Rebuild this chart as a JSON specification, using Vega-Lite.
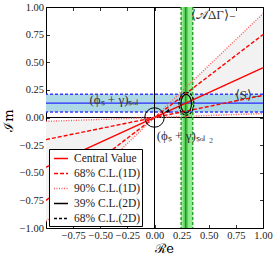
{
  "$schema": "https://vega.github.io/schema/vega-lite/v6.json",
  "width": 217,
  "height": 221,
  "autosize": {"type": "none"},
  "padding": {"left": 46, "top": 7, "right": 13, "bottom": 29},
  "config": {
    "view": {"stroke": "black", "strokeWidth": 1},
    "axis": {"domain": false, "grid": false, "tickColor": "black", "tickWidth": 0.8, "tickSize": -3.5, "labelFont": "Liberation Serif", "labelFontSize": 10.5, "labelColor": "#222", "labelOverlap": false, "labelFlush": false, "titleFont": "DejaVu Serif", "titleFontWeight": "normal", "titleFontSize": 13, "titleColor": "black"}
  },
  "datasets": {
    "wedge": [{"x": -1, "lo": -0.035, "hi": -0.94}, {"x": 0, "lo": 0, "hi": 0}, {"x": 1, "lo": 0.035, "hi": 0.94}],
    "bands": [
      {"band": "S", "x": -1, "x2": 1, "y": 0.05, "y2": 0.21},
      {"band": "A1", "x": 0.245, "x2": 0.352, "y": -1, "y2": 1},
      {"band": "A2", "x": 0.266, "x2": 0.31, "y": -1, "y2": 1}
    ],
    "hlines": [{"kind": "zero", "y": 0}, {"kind": "S", "y": 0.13}, {"kind": "S68", "y": 0.05}, {"kind": "S68", "y": 0.21}],
    "vlines": [{"kind": "zero", "x": 0}, {"kind": "A", "x": 0.288}, {"kind": "A68", "x": 0.245}, {"kind": "A68", "x": 0.352}],
    "lines": [
      {"series": "Central Value", "id": "c", "x": -1, "y": -0.45}, {"series": "Central Value", "id": "c", "x": 1, "y": 0.45},
      {"series": "68% C.L.(1D)", "id": "d1", "x": -1, "y": -0.2}, {"series": "68% C.L.(1D)", "id": "d1", "x": 1, "y": 0.2},
      {"series": "68% C.L.(1D)", "id": "d2", "x": -1, "y": -0.75}, {"series": "68% C.L.(1D)", "id": "d2", "x": 1, "y": 0.75},
      {"series": "90% C.L.(1D)", "id": "p1", "x": -1, "y": -0.035}, {"series": "90% C.L.(1D)", "id": "p1", "x": 1, "y": 0.035},
      {"series": "90% C.L.(1D)", "id": "p2", "x": -1, "y": -0.94}, {"series": "90% C.L.(1D)", "id": "p2", "x": 1, "y": 0.94}
    ],
    "ellipses": [{"level": "39", "x": 0.292, "y": 0.125}, {"level": "68", "x": 0.294, "y": 0.125}],
    "circle": [{"x": 0, "y": 0}],
    "arrow": [{"x": 0.13, "y": 0.055}],
    "labels": [
      {"t": "(ϕₛ + γ)ₛₒₗ", "x": -0.6, "y": 0.158},
      {"t": "(ϕₛ + γ)ₛₒₗ ₂", "x": 0.02, "y": -0.167},
      {"t": "⟨S⟩₋", "x": 0.74, "y": 0.2},
      {"t": "⟨𝒜ΔΓ⟩₋", "x": 0.336, "y": 0.93}
    ]
  },
  "resolve": {
    "scale": {"color": "independent", "strokeDash": "independent", "strokeWidth": "independent"},
    "axis": {"x": "independent", "y": "independent"}
  },
  "layer": [
    {
      "data": {"name": "wedge"},
      "mark": {"type": "area", "color": "#f2f2f2", "clip": true},
      "encoding": {
        "x": {"field": "x", "type": "quantitative", "scale": {"domain": [-1, 1], "nice": false, "zero": false},
          "axis": {"values": [-1, -0.75, -0.5, -0.25, 0, 0.25, 0.5, 0.75, 1], "labelExpr": "datum.value == -1 ? '' : replace(format(datum.value, '.2f'), '-', '−')", "labelPadding": 6, "title": "ℛe", "titleX": 118, "titleY": 20, "titleBaseline": "middle"}},
        "y": {"field": "lo", "type": "quantitative", "scale": {"domain": [-1, 1], "nice": false, "zero": false},
          "axis": {"values": [-1, -0.75, -0.5, -0.25, 0, 0.25, 0.5, 0.75, 1], "labelExpr": "replace(format(datum.value, '.2f'), '-', '−')", "labelPadding": 6, "title": "ℐm", "titleX": -38, "titleY": 113, "titleAngle": -90, "titleBaseline": "middle", "titleAlign": "center"}},
        "y2": {"field": "hi"}
      }
    },
    {
      "data": {"name": "bands"},
      "mark": {"type": "rect", "clip": true},
      "encoding": {
        "x": {"field": "x", "type": "quantitative", "scale": {"domain": [-1, 1], "nice": false, "zero": false}, "axis": null},
        "x2": {"field": "x2"},
        "y": {"field": "y", "type": "quantitative", "scale": {"domain": [-1, 1], "nice": false, "zero": false}, "axis": null},
        "y2": {"field": "y2"},
        "fill": {"field": "band", "type": "nominal", "scale": {"domain": ["S", "A1", "A2"], "range": ["#add8e6", "#90ee90", "#5dcf5d"]}, "legend": null}
      }
    },
    {
      "data": {"name": "hlines"},
      "mark": {"type": "rule"},
      "encoding": {
        "y": {"field": "y", "type": "quantitative", "scale": {"domain": [-1, 1], "nice": false, "zero": false}, "axis": null},
        "color": {"field": "kind", "type": "nominal", "scale": {"domain": ["zero", "S", "S68"], "range": ["black", "#2a2aff", "#3a3aff"]}, "legend": null},
        "strokeDash": {"field": "kind", "type": "nominal", "scale": {"domain": ["zero", "S", "S68"], "range": [[1, 0], [1, 0], [3, 2]]}, "legend": null},
        "strokeWidth": {"field": "kind", "type": "ordinal", "scale": {"domain": ["zero", "S", "S68"], "range": [1, 1.6, 1]}, "legend": null}
      }
    },
    {
      "data": {"name": "vlines"},
      "mark": {"type": "rule"},
      "encoding": {
        "x": {"field": "x", "type": "quantitative", "scale": {"domain": [-1, 1], "nice": false, "zero": false}, "axis": null},
        "color": {"field": "kind", "type": "nominal", "scale": {"domain": ["zero", "A", "A68"], "range": ["black", "#1a8a1a", "#2ca02c"]}, "legend": null},
        "strokeDash": {"field": "kind", "type": "nominal", "scale": {"domain": ["zero", "A", "A68"], "range": [[1, 0], [1, 0], [3, 2]]}, "legend": null},
        "strokeWidth": {"field": "kind", "type": "ordinal", "scale": {"domain": ["zero", "A", "A68"], "range": [1, 1.5, 1]}, "legend": null}
      }
    },
    {
      "data": {"name": "lines"},
      "mark": {"type": "line", "clip": true, "strokeWidth": 1.4},
      "encoding": {
        "x": {"field": "x", "type": "quantitative", "scale": {"domain": [-1, 1], "nice": false, "zero": false}, "axis": null},
        "y": {"field": "y", "type": "quantitative", "scale": {"domain": [-1, 1], "nice": false, "zero": false}, "axis": null},
        "detail": {"field": "id"},
        "color": {"field": "series", "type": "nominal",
          "scale": {"domain": ["Central Value", "68% C.L.(1D)", "90% C.L.(1D)", "39% C.L.(2D)", "68% C.L.(2D)"], "range": ["red", "red", "#ff5a5a", "black", "black"]},
          "legend": {"title": null, "orient": "none", "legendX": 3, "legendY": 142, "fillColor": "white", "strokeColor": "black", "padding": 1.5, "symbolOffset": 2.5, "symbolType": "stroke", "symbolSize": 196, "symbolStrokeWidth": 1.5, "labelFont": "Liberation Serif", "labelFontSize": 11.5, "labelColor": "#222", "rowPadding": 1, "labelOffset": 5, "cornerRadius": 0}},
        "strokeDash": {"field": "series", "type": "nominal",
          "scale": {"domain": ["Central Value", "68% C.L.(1D)", "90% C.L.(1D)", "39% C.L.(2D)", "68% C.L.(2D)"], "range": [[1, 0], [4, 2], [1, 1.5], [1, 0], [3, 2]]},
          "legend": {"title": null, "orient": "none", "legendX": 3, "legendY": 142, "fillColor": "white", "strokeColor": "black", "padding": 1.5, "symbolOffset": 2.5, "symbolType": "stroke", "symbolSize": 196, "symbolStrokeWidth": 1.5, "labelFont": "Liberation Serif", "labelFontSize": 11.5, "labelColor": "#222", "rowPadding": 1, "labelOffset": 5, "cornerRadius": 0}}
      }
    },
    {
      "data": {"name": "ellipses"},
      "transform": [{"filter": "datum.level == '39'"}],
      "mark": {"type": "point", "filled": false, "stroke": "black", "strokeWidth": 1.1, "opacity": 1, "size": 346, "shape": "M 0,-1 A 0.57,1 0 1,1 0,1 A 0.57,1 0 1,1 0,-1 Z"},
      "encoding": {
        "x": {"field": "x", "type": "quantitative", "scale": {"domain": [-1, 1], "nice": false, "zero": false}, "axis": null},
        "y": {"field": "y", "type": "quantitative", "scale": {"domain": [-1, 1], "nice": false, "zero": false}, "axis": null}
      }
    },
    {
      "data": {"name": "ellipses"},
      "transform": [{"filter": "datum.level == '68'"}],
      "mark": {"type": "point", "filled": false, "stroke": "black", "strokeWidth": 1.1, "opacity": 1, "strokeDash": [2.5, 1.5], "size": 529, "shape": "M 0,-1 A 0.65,1 0 1,1 0,1 A 0.65,1 0 1,1 0,-1 Z"},
      "encoding": {
        "x": {"field": "x", "type": "quantitative", "scale": {"domain": [-1, 1], "nice": false, "zero": false}, "axis": null},
        "y": {"field": "y", "type": "quantitative", "scale": {"domain": [-1, 1], "nice": false, "zero": false}, "axis": null}
      }
    },
    {
      "data": {"name": "arrow"},
      "mark": {"type": "point", "shape": "triangle-down", "filled": true, "color": "black", "opacity": 1, "size": 20, "angle": -50},
      "encoding": {
        "x": {"field": "x", "type": "quantitative", "scale": {"domain": [-1, 1], "nice": false, "zero": false}, "axis": null},
        "y": {"field": "y", "type": "quantitative", "scale": {"domain": [-1, 1], "nice": false, "zero": false}, "axis": null}
      }
    },
    {
      "data": {"name": "labels"},
      "mark": {"type": "text", "align": "left", "baseline": "middle", "font": "Liberation Serif", "fontSize": 13, "color": "#333"},
      "encoding": {
        "x": {"field": "x", "type": "quantitative", "scale": {"domain": [-1, 1], "nice": false, "zero": false}, "axis": null},
        "y": {"field": "y", "type": "quantitative", "scale": {"domain": [-1, 1], "nice": false, "zero": false}, "axis": null},
        "text": {"field": "t"}
      }
    },
    {
      "data": {"name": "circle"},
      "mark": {"type": "point", "shape": "circle", "filled": false, "stroke": "black", "strokeWidth": 1, "opacity": 1, "size": 380},
      "encoding": {
        "x": {"field": "x", "type": "quantitative", "scale": {"domain": [-1, 1], "nice": false, "zero": false},
          "axis": {"orient": "top", "values": [-1, -0.75, -0.5, -0.25, 0, 0.25, 0.5, 0.75, 1], "labels": false, "title": null}},
        "y": {"field": "y", "type": "quantitative", "scale": {"domain": [-1, 1], "nice": false, "zero": false},
          "axis": {"orient": "right", "values": [-1, -0.75, -0.5, -0.25, 0, 0.25, 0.5, 0.75, 1], "labels": false, "title": null}}
      }
    }
  ]
}
